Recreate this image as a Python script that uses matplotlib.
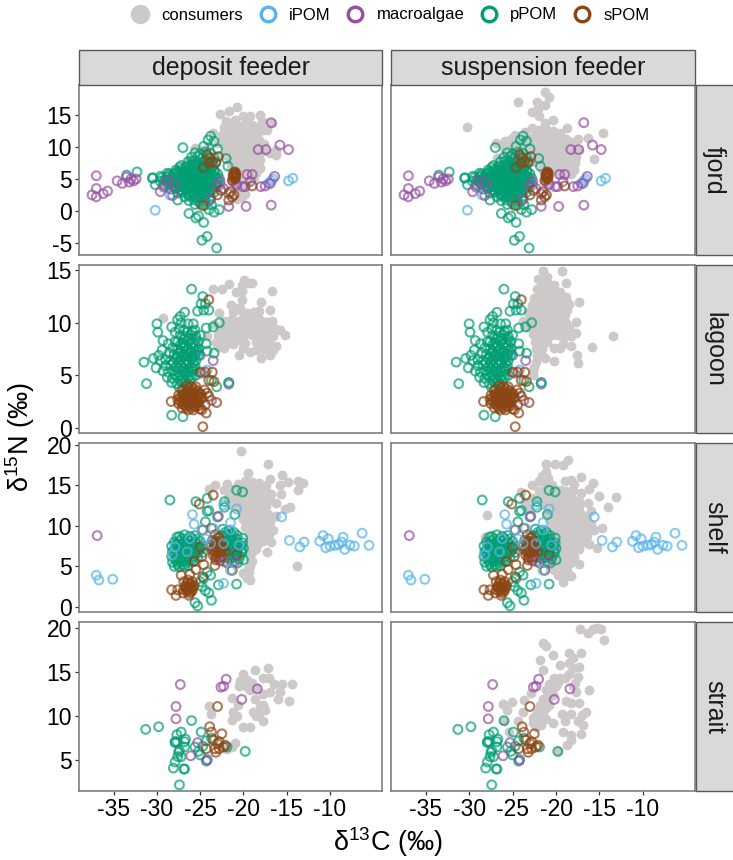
#isotope biplots by habitat and feeding mode
import matplotlib
matplotlib.use('Agg')
import matplotlib.pyplot as plt
from matplotlib.lines import Line2D
from matplotlib.patches import Rectangle

plt.rcParams['font.family'] = ['Liberation Sans', 'DejaVu Sans']
plt.rcParams['mathtext.fontset'] = 'custom'
plt.rcParams['mathtext.rm'] = 'Liberation Sans'
plt.rcParams['mathtext.it'] = 'Liberation Sans'
plt.rcParams['mathtext.default'] = 'regular'
plt.rcParams['axes.unicode_minus'] = False

feeders = ['deposit feeder', 'suspension feeder']
habitats = ['fjord', 'lagoon', 'shelf', 'strait']
x_ticks = [-35, -30, -25, -20, -15, -10]
y_ticks = {'fjord': [-5, 0, 5, 10, 15], 'lagoon': [0, 5, 10, 15],
           'shelf': [0, 5, 10, 15, 20], 'strait': [5, 10, 15, 20]}

# (d13C, d15N) per group, sources are the same in both feeder columns
fjord_ipom = [(-30.2,0.1),(-17.1,4.3),(-16.8,4.7),(-16.6,5.0),(-14.8,4.7),(-14.3,5.1),(-28.5,2.5),(-20.8,4.3),(-22.7,4.0)]
fjord_macro = [(-37,5.5),(-37,3.5),(-37.5,2.5),(-37,2.2),(-36.2,2.7),(-35.7,3.1),(-34.6,4.7),(-34,4.3),(-33.5,5.3),
               (-33,5),(-33.2,4.5),(-32.4,5),(-32.7,4.7),(-29.6,3),(-29.2,3.7),(-28.9,4.8),(-28,4.2),(-28.2,2.4),
               (-23.8,1.8),(-22.7,4.6),(-23.1,3.8),(-22.3,3.5),(-21.7,0.7),(-19.7,0.7),(-16.8,0.9),(-16.8,13.8),
               (-18.3,9.6),(-17.4,9.6),(-15.8,10.3),(-14.8,9.6),(-19.6,5.7),(-19,5.7),(-16.4,5.4),(-21.2,4.6),
               (-20.8,4.1),(-20.1,3.8),(-19.8,3.8),(-19.2,4.6),(-18,3.8),(-17.5,3.9),(-16.9,4.3),(-21.7,2.7)]
fjord_ppom = [(-23.1,-5.8),(-24.2,-4),(-24.8,-4.6),(-24.6,-1.8),(-25.5,-1.1),(-25.2,-0.8),(-26.3,-0.4),(-23.4,-0.2),
              (-22.8,0.2),(-24,0.2),(-27,9.9),(-23.8,11.7),(-23.4,10.9),(-24.1,11.1),(-24.6,10.1),(-23,9.7),(-22,8.2),
              (-21.8,7),(-32.3,6.1),(-33.5,5.6),(-30.5,5.2),(-30.5,5.1),(-30.2,4.1),(-29.6,5.4),(-27.6,1.7),(-28.8,5.9),
              (-27.4,6.8),
              (-25.6,9.1),(-25,8.9),(-24.4,9.2),(-23.8,9),(-26,8.4),(-25.3,8.5),(-24.7,8.3),(-24.1,8.5),(-23.4,8.3),
              (-26.4,7.7),(-25.8,7.8),(-25.1,7.6),(-24.5,7.8),(-23.9,7.6),(-23.2,7.7),(-27.2,7.1),(-26.6,7),(-26,7.2),
              (-25.4,7),(-24.8,7.1),(-24.1,7),(-23.5,7.2),(-27.8,6.4),(-27.1,6.5),(-26.5,6.3),(-25.9,6.5),(-25.2,6.4),
              (-24.6,6.3),(-24,6.5),(-23.4,6.3),(-28.6,5.8),(-28,5.9),(-27.4,5.7),(-26.8,5.8),(-26.2,5.9),(-25.5,5.7),
              (-24.9,5.8),(-24.3,5.9),(-23.6,5.7),(-23,5.8),(-29.4,5.2),(-28.8,5.3),(-28.2,5.1),(-27.6,5.2),(-27,5.3),
              (-26.4,5.1),(-25.8,5.2),(-25.2,5.3),(-24.6,5.1),(-24,5.2),(-23.4,5.3),(-22.8,5.1),(-29.6,4.6),(-29,4.7),
              (-28.4,4.5),(-27.8,4.6),(-27.2,4.7),(-26.6,4.5),(-26,4.6),(-25.4,4.7),(-24.8,4.5),(-24.2,4.6),(-23.6,4.7),
              (-23,4.5),(-29.2,4),(-28.6,4.1),(-28,3.9),(-27.4,4),(-26.8,4.1),(-26.2,3.9),(-25.6,4),(-25,4.1),(-24.4,3.9),
              (-23.8,4),(-23.2,4.1),(-28.4,3.4),(-27.8,3.5),(-27.2,3.3),(-26.6,3.4),(-26,3.5),(-25.4,3.3),(-24.8,3.4),
              (-24.2,3.5),(-23.6,3.3),(-27.6,2.8),(-27,2.9),(-26.4,2.7),(-25.8,2.8),(-25.2,2.9),(-24.6,2.7),(-24,2.8),
              (-23.4,2.9),(-26.8,2.2),(-26.2,2.3),(-25.6,2.1),(-25,2.2),(-24.4,2.3),(-23.8,2.1),(-26.3,1.6),(-25.7,1.7),
              (-25.1,1.5),(-24.5,1.6),(-23.9,1.7),(-25.6,1),(-25,1.1),(-24.4,0.9),(-23.7,1),
              (-25.6,7.4),(-25,7.3),(-24.4,7.4),(-23.8,7.4),(-26.6,6.8),(-26,6.9),(-25.4,6.7),(-24.8,6.8),(-24.2,6.7),(-23.7,6.8),
              (-27.6,6.1),(-27,6.2),(-26.4,6),(-25.8,6.1),(-25.1,6),(-24.5,6.1),(-23.9,6),(-23.3,6.1),(-28.6,5.5),(-28.1,5.6),
              (-27.5,5.5),(-26.9,5.4),(-26.3,5.6),(-25.7,5.5),(-25.1,5.4),(-24.5,5.6),(-23.9,5.5),(-23.3,5.4),(-29.1,4.9),(-28.5,5),
              (-27.9,4.8),(-27.3,4.9),(-26.7,5),(-26.1,4.8),(-25.5,4.9),(-24.9,5),(-24.3,4.8),(-23.7,4.9),(-23.1,5),(-28.7,4.3),
              (-28.1,4.4),(-27.5,4.2),(-26.9,4.3),(-26.3,4.4),(-25.7,4.2),(-25.1,4.3),(-24.5,4.4),(-23.9,4.2),(-23.3,4.3),(-27.9,3.7),
              (-27.3,3.8),(-26.7,3.6),(-26.1,3.7),(-25.5,3.8),(-24.9,3.6),(-24.3,3.7),(-23.7,3.8),(-27.1,3.1),(-26.5,3.2),(-25.9,3),
              (-25.3,3.1),(-24.7,3.2),(-24.1,3),(-26.3,2.5),(-25.7,2.6),(-25.1,2.4),(-24.5,2.5)]
fjord_spom = [(-21,6.1),(-21,5.8),(-21.1,5.5),(-20.9,5.3),(-21,5),(-21.2,5.6),(-20.9,5.9),(-21.3,4.8),(-24.2,8.8),
              (-23.9,8.3),(-22.9,8.5),(-23.6,7.7),(-24.6,6.8),(-24,7.5),(-23.2,7.5),(-24.7,0.8),(-19,3.9),(-21.3,2.2),
              (-21.1,2.5),(-21.7,1.7),(-23,2.5),(-22.6,3.2),(-21.5,3),(-21,6),(-21.1,5.7),(-20.9,5.6),(-21,5.2),(-21.1,5.1)]
fjord_deposit = [(-20.8,16.3),(-21.7,15.7),(-22.7,15.2),(-22,14),(-21,14.2),(-20.1,14.8),(-19.2,14.9),(-18.1,15),
                 (-16.7,13.8),(-17.9,14),(-17.7,12.7),(-17.3,12.6),(-23.5,12.2),(-22.5,11.9),(-25.6,9.8),(-26.3,8),
                 (-16.3,8.8),(-16.9,9),(-16.2,9.6),(-18.1,8),(-18.1,6.7),(-18.5,5.9),(-20.2,2.2),(-19.8,2.7),(-20.8,1.9),
                 (-22.2,13.2),(-21.4,13.4),(-20.6,13.3),(-19.8,13.6),(-19,13.5),(-18.3,13.2),(-22.4,12.1),(-21.6,12.3),
                 (-20.8,12.2),(-20,12.4),(-19.2,12.3),(-18.4,12),(-22.2,11),(-21.4,11.2),(-20.6,11),(-19.8,11.2),(-19,11),
                 (-18.2,11.1),(-17.6,10.4),(-22,9.9),(-21.2,10),(-20.4,9.9),(-19.6,10.1),(-18.8,9.9),(-18,9.6),(-17.4,9.3),
                 (-22.2,8.8),(-21.4,8.9),(-20.6,8.8),(-19.8,9),(-19,8.8),(-18.2,8.8),(-21.6,7.8),(-20.8,7.7),(-20,7.9),
                 (-19.2,7.7),(-18.6,7.4),(-21.4,6.7),(-20.6,6.6),(-19.8,6.8),(-19,6.6),(-20.2,5.6),(-19.4,5.5),(-18.8,5.2),
                 (-20.2,4.5),(-19.6,4.4),(-20.6,3.4),(-20,3.2),(-23,10.6),(-24,10.2),(-24.8,9.6),
                 (-21.8,12.8),(-21,12.8),(-20.2,12.9),(-19.4,12.9),(-18.6,12.7),(-21.8,11.7),(-21,11.7),(-20.2,11.8),(-19.4,11.7),
                 (-18.6,11.6),(-21.6,10.5),(-20.8,10.5),(-20,10.6),(-19.2,10.5),(-18.4,10.4),(-21.6,9.4),(-20.8,9.4),(-20,9.5),
                 (-19.2,9.4),(-18.4,9.3),(-21,8.3),(-20.2,8.3),(-19.4,8.3),(-18.6,8.2),(-21,7.2),(-20.2,7.3),(-19.4,7.2),(-20.6,6.1),
                 (-19.8,6.1),(-19.2,6.1)]
fjord_suspension = [(-21.3,18.6),(-20.8,17.9),(-22.2,17.1),(-21.3,16.6),(-24.4,17.1),(-22.1,15.9),(-22.8,15.4),(-22,14.8),
                    (-21.3,13.8),(-20.3,14.2),(-18.7,12.9),(-30.2,13.1),(-17.5,11.2),(-16.3,11.4),(-14.6,12.2),(-15.6,8.1),
                    (-26.9,10.6),(-26.8,8.3),(-25.9,10.9),(-24.7,11.9),(-23.6,12.4),(-22.8,12.9),(-22,12.6),(-21.2,12.8),
                    (-20.4,12.5),(-19.6,12.2),(-25.2,11.2),(-24.4,11),(-23.6,11.2),(-22.8,11.4),(-22,11.2),(-21.2,11.5),
                    (-20.4,11.3),(-19.6,11.1),(-18.8,11.2),(-18.2,10.8),(-26,9.9),(-25.2,10),(-24.4,9.9),(-23.6,10.1),
                    (-22.8,10),(-22,10.2),(-21.2,10),(-20.4,10.2),(-19.6,10),(-18.8,10),(-18,9.8),(-17.4,9.6),(-25.6,8.8),
                    (-24.8,8.7),(-24,8.9),(-23.2,8.8),(-22.4,8.9),(-21.6,8.8),(-20.8,9),(-20,8.8),(-19.2,8.9),(-18.4,8.7),
                    (-17.7,8.5),(-22.4,7.7),(-21.6,7.8),(-20.8,7.7),(-20,7.7),(-19.2,7.8),(-18.4,7.6),(-17.8,7.5),(-21.6,6.6),
                    (-20.8,6.7),(-20,6.6),(-19.2,6.7),(-18.4,6.5),(-17.9,6.4),(-19.6,5.7),(-19,5.6),(-18.3,5.8),
                    (-22.2,12),(-21.4,12.1),(-20.6,12),(-19.8,11.8),(-23.2,10.7),(-22.4,10.7),(-21.6,10.7),(-20.8,10.7),(-20,10.6),
                    (-19.2,10.5),(-18.4,10.4),(-21.8,9.5),(-21,9.5),(-20.2,9.4),(-19.4,9.5),(-18.6,9.4),(-17.8,9.2),(-21,8.3),(-20.2,8.3),
                    (-19.4,8.3),(-18.6,8.2),(-17.9,8.1),(-20.2,7.2),(-19.4,7.2),(-18.6,7.1),(-19.4,6.1),(-18.7,6.1)]

lagoon_ipom = [(-21.7,4.3),(-25.2,7.2),(-24.2,5.5),(-25.6,6.8)]
lagoon_macro = [(-21.7,4.15),(-23.5,6.4),(-24.8,5.2),(-25,6.9),(-23.7,2.6)]
lagoon_ppom = [(-26,13.2),(-24.7,12.5),(-24.9,11.8),(-24.4,11.8),(-25.3,11.1),(-24.6,11.2),(-24,11.2),(-26.8,11),(-27.3,10.6),
               (-27.6,10.3),(-30,9.9),(-29.9,9.1),(-28.3,9.6),(-27.9,9.1),(-25.8,9.9),(-22.8,10),(-23.5,9.6),(-24.3,9.5),
               (-29.3,8.3),(-28.7,8),(-27.9,8.2),(-24.3,8),(-30.4,6.6),(-31.5,6.25),(-29.8,6.9),(-31.2,4.2),(-30.1,5.7),
               (-29.4,7.4),(-29.6,6.4),(-23.4,7.1),(-24.2,7.3),(-23.1,3.9),(-23.7,4.5),(-28.3,1.2),(-27,1.05),(-21.7,4.3),
               (-27.2,10),(-26.4,9.9),(-25.6,9.3),(-26.8,9.3),(-27.4,9.4),
               (-27.3,8.8),(-26.7,8.7),(-26.1,8.9),(-25.5,8.7),(-25,8.8),(-27.6,8.2),(-27,8.1),(-26.4,8.3),(-25.8,8.1),
               (-25.2,8.2),(-28.2,7.6),(-27.6,7.5),(-27,7.7),(-26.4,7.5),(-25.8,7.6),(-25.2,7.5),(-28.6,7.1),(-28,7),
               (-27.4,7.1),(-26.8,7),(-26.2,7.2),(-25.6,7),(-25.2,6.9),(-29,6.5),(-28.4,6.4),(-27.8,6.6),(-27.2,6.5),
               (-26.6,6.4),(-26,6.6),(-25.5,6.4),(-29,5.9),(-28.4,6),(-27.8,5.8),(-27.2,5.9),(-26.6,6),(-26,5.8),(-25.6,5.9),
               (-29.3,5.4),(-28.7,5.3),(-28.1,5.4),(-27.5,5.3),(-26.9,5.4),(-26.3,5.3),(-25.9,5.4),(-28.8,4.8),(-28.2,4.7),
               (-27.6,4.8),(-27,4.7),(-26.4,4.8),(-28.3,4.3),(-27.7,4.2),(-27.1,4.3),(-26.6,4.2),(-27.4,3.8),(-26.9,3.7),
               (-25.9,4.8),(-25.5,5),
               (-26.9,8.4),(-26.2,8.5),(-25.5,8.4),(-27.3,7.9),(-26.7,7.8),(-26.1,7.9),(-25.5,7.8),(-27.3,7.3),(-26.6,7.3),(-26,7.3),
               (-25.4,7.3),(-27.6,6.8),(-27.1,6.8),(-26.5,6.8),(-25.9,6.8),(-27.5,6.2),(-26.9,6.2),(-26.3,6.2),(-25.8,6.2),(-27.5,5.6),
               (-26.9,5.7),(-26.3,5.6),(-25.7,5.6),(-27.3,5),(-26.7,5.1),(-26.1,5),(-27.2,4.5),(-26.7,4.5),(-26.2,4.5),(-28,5.1),(-28.1,6.2),
               (-26.5,9.1),(-25.9,9.2)]
lagoon_spom = [(-24.7,0.1),(-24.3,1.4),(-24.8,1.7),(-23.1,2.4),(-28.35,2.5),(-24,12.2),(-25,5.3),(-24.4,5.3),(-23.6,5.3),
               (-23.4,4.4),(-24,4.5),(-24.2,3.3),(-24,3),(-25,1.8),(-24.4,2.2),(-24.8,2.9),(-24.5,3.6),
               (-26.6,4),(-26,3.9),(-25.5,3.9),(-27.1,3.6),(-26.5,3.5),(-25.9,3.5),(-25.3,3.5),(-27.5,3.1),(-27,3.1),
               (-26.5,3.1),(-25.9,3.1),(-25.3,3.1),(-24.9,3.2),(-27.6,2.7),(-27.1,2.7),(-26.6,2.7),(-26,2.7),(-25.4,2.7),
               (-24.9,2.7),(-27.5,2.3),(-27,2.3),(-26.5,2.3),(-25.9,2.3),(-25.4,2.3),(-27.1,1.9),(-26.6,1.9),(-26,1.9),
               (-25.5,2),
               (-26.3,3.8),(-25.7,3.7),(-26.9,3.3),(-26.3,3.3),(-25.7,3.3),(-25.1,3.3),(-27.3,2.9),(-26.8,2.9),(-26.3,2.9),(-25.7,2.9),
               (-25.2,2.9),(-27.3,2.5),(-26.8,2.5),(-26.3,2.5),(-25.7,2.5),(-25.2,2.5),(-26.8,2.1),(-26.3,2.1),(-25.7,2.1),(-25.2,2.1),
               (-26.3,3),(-26.6,2.9),(-26,3),(-26.3,2.7),(-26.8,2.7),(-25.8,2.7),(-26.4,1.7),(-25.8,1.7)]
lagoon_deposit = [(-19.9,14.1),(-19,13.8),(-19.5,13.8),(-20.2,13.6),(-21.7,13.7),(-22.5,13.2),(-23.5,13.2),(-20.9,12.9),
                  (-20.2,13),(-16.7,13),(-18,12),(-21.4,11.7),(-20.2,12.2),(-16.9,11.2),(-29.3,10.5),(-22.8,10.9),(-18.2,11.1),
                  (-16.7,10.2),(-16.5,9.5),(-15.8,9.3),(-15.2,8.8),(-16.2,7.8),(-16.9,6.9),(-18,6.6),(-19.2,7.2),(-20.5,6.9),
                  (-20.1,7.6),(-18.5,7.4),(-17.1,8),(-22.3,7.6),(-21.2,8),(-23,7.7),(-24.2,8.7),(-23.4,9.9),
                  (-21.2,11),(-20.4,11.4),(-19.6,10.9),(-18.8,11),(-22.2,10.2),(-21.4,10.3),(-20.6,10.2),(-19.8,10.4),
                  (-19,10.2),(-18.2,10.4),(-17.4,10.1),(-22.6,9.5),(-21.8,9.5),(-21,9.6),(-20.2,9.5),(-19.4,9.6),(-18.6,9.5),
                  (-17.8,9.6),(-17,9.4),(-23,8.8),(-22.2,8.8),(-21.4,8.9),(-20.6,8.8),(-19.8,8.9),(-19,8.8),(-18.2,8.9),
                  (-17.4,8.8),(-16.6,8.7),(-22.6,8.2),(-21.8,8.1),(-19.8,8.1),(-18.6,8.2),(-17.8,8.1),(-17.6,7.5),(-16.6,7.4),
                  (-20.8,11.4),(-20,10.9),(-19.2,10.7),(-21.8,10.1),(-21,10),(-20.2,10),(-19.4,10),(-18.6,10),(-17.8,10.1),(-22.2,9.2),
                  (-21.4,9.2),(-20.6,9.2),(-19.8,9.2),(-19,9.2),(-18.2,9.2),(-17.4,9.2),(-22,8.4),(-21.2,8.5),(-20.4,8.4),(-23.2,8.2)]
lagoon_suspension = [(-13.4,8.7),(-15.9,7.7),(-19.3,14.9),(-18.8,13.8),(-21.5,14.9),(-21,14.4),(-22.1,14.2),(-17.4,12),
                     (-17.7,10.1),(-17.5,6.2),(-17.6,6.9),(-18.3,7.8),(-20.2,6.4),(-19.6,7.6),(-20.2,7.6),(-21.3,6.6),
                     (-22.5,5.8),(-22.6,5),(-18.5,11.8),(-18.9,12.5),(-17.7,9),(-18.3,8.7),
                     (-21.6,13.8),(-20.9,13.7),(-20.2,13.6),(-22.2,13.2),(-21.5,13),(-20.8,13.1),(-20.1,13),(-19.5,12.9),
                     (-22.5,12.4),(-21.8,12.3),(-21.1,12.4),(-20.4,12.3),(-19.7,12.4),(-19.1,12),(-22.8,11.7),(-22.1,11.6),
                     (-21.4,11.7),(-20.7,11.6),(-20,11.7),(-19.3,11.5),(-18.7,11.2),(-23.2,11),(-22.5,10.9),(-21.8,11),
                     (-21.1,10.9),(-20.4,11),(-19.7,10.8),(-19,10.7),(-23.8,10.2),(-23.1,10.3),(-22.4,10.2),(-21.7,10.3),
                     (-21,10.2),(-20.3,10.3),(-19.6,10.1),(-18.9,10),(-18.5,9.5),(-23.2,9.6),(-22.5,9.6),(-21.8,9.5),(-21.1,9.6),
                     (-20.4,9.6),(-19.7,9.4),(-19,9.3),(-22.6,8.9),(-21.9,8.8),(-21.2,8.9),(-20.5,8.8),(-19.8,8.8),(-19.1,8.6),
                     (-22.4,8.2),(-21.7,8.1),(-21,8.2),(-19.2,8),(-22.3,7.5),(-21.6,7.5),(-22.2,6.9),(-21.7,7),(-22.3,6.3),(-22.6,5.4),
                     (-21.2,13.5),(-20.5,13.3),(-21.8,12.7),(-21.1,12.8),(-20.4,12.7),(-19.8,12.7),(-22.4,12),(-21.7,12),(-21,12),(-20.3,12),
                     (-19.6,11.9),(-22.7,11.3),(-22,11.3),(-21.3,11.3),(-20.6,11.3),(-19.9,11.2),(-22.7,10.6),(-22,10.6),(-21.3,10.6),(-20.6,10.6),
                     (-19.9,10.5),(-22.8,9.9),(-22.1,9.9),(-21.4,9.9),(-20.7,9.9),(-20,9.9),(-19.3,9.8),(-22.2,9.2),(-21.5,9.2),(-20.8,9.2),(-20.1,9.2)]

shelf_ipom = [(-37,3.9),(-36.7,3.3),(-35.1,3.4),(-14.7,8.2),(-15.6,11.1),(-13.5,7.4),(-13,8),(-11.2,8.1),(-10.8,8.8),
              (-10.2,8.4),(-10.5,7.3),(-10,7.5),(-9.4,7.6),(-9,7.7),(-8.5,8.6),(-8.7,8),(-8.3,7.1),(-7.7,7.6),(-7.2,7.5),
              (-6.3,9.1),(-5.5,7.6),(-25.9,11.4),(-25.7,10.2),(-20.8,12.1),(-21.5,10.4),(-22.3,12.6),(-23.5,9.7),(-24.8,9.5),
              (-26.2,8.4),(-24.4,8.4),(-22.3,7.8),(-20.5,7.6),(-28.2,6.4),(-27.9,7.4),(-26.5,6.8),(-21.5,4.5),(-22.3,2.9),
              (-23.8,7.8),(-21.5,9.5)]
shelf_macro = [(-36.9,8.8),(-22.9,11.2),(-22.3,5.6),(-21,5.5)]
shelf_ppom = [(-28.5,13.2),(-20.8,14.4),(-20.1,14.2),(-25.5,13),(-24.2,13.4),(-22.2,13),(-22.2,12.3),(-24.2,11.8),(-24,11.9),
              (-23,11.1),(-21,11.4),(-24.4,10.5),(-20.8,2.8),(-22.9,2.7),(-23.7,0.8),(-25.6,0.5),(-25.3,0.1),(-24,1.7),
              (-24.4,2),(-24.8,2.5),(-23.8,3.9),(-24.2,4.3),(-27.7,8.6),(-24.6,3.5),(-25,3.1),
              (-27.4,8.7),(-26.8,8.9),(-26.2,8.7),(-25.6,8.8),(-28,8),(-27.4,8.1),(-26.8,8),(-26.2,8.2),(-25.6,8),(-25,8.1),
              (-28.3,7.5),(-27.7,7.4),(-27.1,7.5),(-26.5,7.4),(-25.9,7.5),(-25.3,7.4),(-24.7,7.5),(-28.2,6.8),(-27.6,6.8),
              (-27,6.9),(-26.4,6.8),(-25.8,6.9),(-25.2,6.8),(-24.7,6.7),(-28.3,6.2),(-27.7,6.1),(-27.1,6.2),(-26.5,6.1),
              (-25.9,6.2),(-25.3,6.1),(-28.2,5.5),(-27.6,5.5),(-27,5.6),(-26.4,5.5),(-25.8,5.6),(-28,5),(-27.4,4.9),(-26.8,5),
              (-22.4,9.6),(-21.7,9.4),(-21.1,9.2),(-22.6,8.8),(-22,8.9),(-21.4,8.7),(-20.7,8.8),(-20.1,8.5),(-22.5,8.2),
              (-21.9,8.1),(-21.3,8.2),(-20.7,8),(-20.1,7.9),(-22.4,7.4),(-21.8,7.5),(-21.2,7.4),(-20.6,7.3),(-20,7.2),
              (-22.6,6.8),(-22,6.7),(-21.4,6.8),(-20.8,6.7),(-20.2,6.6),(-22.3,6.1),(-21.7,6),(-21.1,6.1),(-20.5,5.9),
              (-20,5.8),(-21.9,5.4),(-21.3,5.5),(-20.7,5.4),
              (-27.2,8.4),(-26.5,8.4),(-25.9,8.4),(-25.3,8.4),(-27.7,7.8),(-27.1,7.8),(-26.5,7.8),(-25.9,7.8),(-25.3,7.8),(-28,7.1),(-27.4,7.1),
              (-26.8,7.1),(-26.2,7.1),(-25.6,7.1),(-25,7.1),(-27.9,6.5),(-27.3,6.5),(-26.7,6.5),(-26.1,6.5),(-25.5,6.5),(-27.8,5.8),(-27.2,5.8),
              (-26.6,5.8),(-26,5.8),(-27.6,5.2),(-27,5.2),(-26.4,5.1),(-22.1,9.2),(-21.4,9),(-20.8,8.4),(-21.5,8.4),(-22.1,7.8),(-21.5,7.7),
              (-20.9,7.7),(-20.3,7.6),(-22,7.1),(-21.4,7.1),(-20.8,7),(-20.2,6.9),(-21.7,6.4),(-21.1,6.4),(-20.5,6.3)]
shelf_spom = [(-23.5,13.8),(-25.1,12.7),(-28.3,2.1),(-27.8,1.4),(-26.3,1.4),(-27.6,2.1),(-27,1.7),
              (-26.9,3.1),(-26.4,3.3),(-25.9,3.1),(-26.7,2.6),(-26.2,2.7),(-25.7,2.6),(-26.9,2.1),(-26.4,2.1),(-25.9,2.1),
              (-26.2,1.7),(-26.6,2.3),(-26.1,2.4),(-23.3,8.9),(-22.8,8.6),(-23.6,8.2),(-23.1,8.1),(-22.6,8),(-23.8,7.6),
              (-23.3,7.5),(-22.8,7.4),(-22.3,7.3),(-23.6,7),(-23.1,6.9),(-22.6,6.9),(-22.1,6.8),(-23.5,6.4),(-23,6.3),
              (-22.5,6.3),(-23.2,5.8),(-22.7,5.7),(-24.8,6.2),(-25,7.4),(-20.8,6.4),(-26.2,4),(-25.5,4.6),(-24.7,3.7),
              (-23.3,5.1),(-21.3,4.5),(-27.2,3.9),(-25.7,5.6),(-24.6,5.2),(-24.7,9.5),(-23.7,9.7),
              (-23,8.5),(-23.4,7.9),(-22.9,7.8),(-23.5,7.2),(-23,7.2),(-22.6,7.2),(-23.3,6.7),(-22.8,6.6),(-23.2,6.1),(-22.7,6.1),
              (-26.5,2.9),(-26.1,2.9),(-26.3,2.4),(-26.7,2.4),(-25.9,2.4),(-26.5,1.9),(-26,1.9)]
shelf_deposit = [(-20.3,19.3),(-17.2,17.7),(-19.5,16.6),(-15.6,16.3),(-16.9,15.8),(-14.9,15.4),(-13.7,15.6),(-13.1,15.3),
                 (-13.7,14.4),(-15.8,15),(-15.7,13.9),(-14.6,12.3),(-15.2,12.1),(-16.2,11.2),(-13.8,5),(-17.3,6.8),(-16.8,8),
                 (-16.3,12.8),(-23.3,15),(-24,14.6),(-21.9,15.2),(-19.2,6.4),(-19,5.6),(-19.4,4.3),(-19.3,3.3),
                 (-20.6,15.2),(-19.8,15.5),(-19,15.4),(-18.2,15.3),(-17.4,15.1),(-22.2,14.4),(-21.4,14.5),(-20.6,14.3),
                 (-19.8,14.4),(-19,14.3),(-18.2,14.4),(-17.4,14.3),(-16.8,14),(-21.8,13.5),(-21,13.4),(-20.2,13.5),(-19.4,13.4),
                 (-18.6,13.5),(-17.8,13.3),(-17,13.2),(-21.4,12.6),(-20.6,12.5),(-19.8,12.6),(-19,12.5),(-18.2,12.6),(-17.4,12.4),
                 (-20.2,11.6),(-19.4,11.7),(-18.6,11.6),(-17.8,11.7),(-17.2,11.5),(-20,10.8),(-19.2,10.8),(-18.4,10.7),
                 (-17.6,10.8),(-16.9,10.5),(-19.8,9.9),(-19,9.9),(-18.2,9.8),(-17.4,9.9),(-16.6,9.5),(-19.4,9),(-18.6,9),
                 (-17.8,9),(-17,8.9),(-19.4,8.1),(-18.6,8.1),(-17.8,8.1),(-19.4,7.3),(-18.6,7.2),(-19.3,5),(-20,4.2),(-19.6,3.6),
                 (-20.6,14.8),(-19.8,14.9),(-19,14.8),(-18.2,14.8),(-20.6,13.9),(-19.8,13.9),(-19,13.9),(-18.2,13.8),(-17.4,13.7),(-20.2,13),
                 (-19.4,13),(-18.6,13),(-17.8,12.9),(-20,12.1),(-19.2,12.1),(-18.4,12.1),(-17.6,12),(-19.6,11.2),(-18.8,11.2),(-18,11.2),
                 (-19.4,10.3),(-18.6,10.3),(-17.8,10.3),(-17.2,10.1),(-19,9.4),(-18.2,9.4),(-17.4,9.4),(-19,8.5),(-18.2,8.5),(-17.5,8.4),
                 (-19,7.7),(-18.3,7.7),(-19,6.8),(-19.2,5.9),(-19.5,4.7)]
shelf_suspension = [(-18.6,18.1),(-19.2,17.5),(-20.1,17.6),(-21.2,17.7),(-21.2,16.7),(-21.6,16.2),(-22,15.6),(-22.8,15),
                    (-24,14.2),(-19,15.6),(-18.3,15.7),(-17.1,16.1),(-15.8,15.3),(-16.2,14.5),(-17.1,14.1),(-15.1,13.7),
                    (-13.1,13.6),(-16.3,12.8),(-14,12.3),(-27.9,11.3),(-16,11.8),(-14.7,9.7),(-15.3,7.3),(-16.2,7.8),(-28.2,8.6),
                    (-19.2,3.1),(-18.3,3.8),(-17.3,5.3),(-17.9,6.2),(-21.5,15.5),(-20.9,15.9),(-21.1,15),(-20.5,15),(-17.9,15.2),
                    (-22,14.3),(-21.2,14.2),(-20.4,14.3),(-19.6,14.4),(-18.8,14.3),(-18,14.4),(-22.8,13.4),(-22,13.5),(-21.2,13.4),
                    (-20.4,13.5),(-19.6,13.4),(-18.8,13.5),(-18,13.3),(-17.3,13.1),(-23.6,13),(-21.4,12.6),(-20.6,12.5),(-19.8,12.6),
                    (-19,12.5),(-18.2,12.6),(-17.4,12.4),(-23.2,12.2),(-21,11.6),(-20.2,11.7),(-19.4,11.6),(-18.6,11.7),(-17.8,11.6),
                    (-17,11.4),(-16.4,11),(-20.8,10.8),(-20,10.8),(-19.2,10.7),(-18.4,10.8),(-17.6,10.7),(-16.8,10.5),(-16,10.2),
                    (-20.6,9.9),(-19.8,9.9),(-19,9.8),(-18.2,9.9),(-17.4,9.8),(-16.6,9.7),(-15.6,9.5),(-20.4,9),(-19.6,9),(-18.8,9),
                    (-18,9),(-17.2,8.9),(-16.4,8.8),(-20,8.1),(-19.2,8.1),(-18.4,8.1),(-17.6,8),(-16.8,8),(-19.8,7.2),(-19,7.2),
                    (-18.2,7.2),(-17.4,7.1),(-19.6,6.3),(-18.8,6.3),(-18,6.4),(-20,5.4),(-19.2,5.4),(-18.4,5.4),(-20.2,4.6),(-19.4,4.5),
                    (-18.7,4.6),(-19.8,3.9),(-18.9,3.8),
                    (-21.6,13.9),(-20.8,13.9),(-20,13.9),(-19.2,13.9),(-18.4,13.9),(-21,13),(-20.2,13),(-19.4,13),(-18.6,13),(-17.8,12.9),(-20.6,12.1),
                    (-19.8,12.1),(-19,12.1),(-18.2,12.1),(-17.4,11.9),(-20.4,11.2),(-19.6,11.2),(-18.8,11.2),(-18,11.2),(-17.2,10.9),(-20.2,10.3),
                    (-19.4,10.3),(-18.6,10.3),(-17.8,10.3),(-17,10.1),(-20,9.4),(-19.2,9.4),(-18.4,9.4),(-17.6,9.4),(-16.8,9.3),(-19.6,8.5),(-18.8,8.5),
                    (-18,8.5),(-17.2,8.4),(-19.4,7.7),(-18.6,7.7),(-17.8,7.6),(-19.2,6.8),(-18.4,6.8),(-19.3,5.9),(-18.6,5.9),(-19.6,5)]

strait_ipom = [(-24.2,5.1)]
strait_macro = [(-27.3,13.6),(-27.8,11.1),(-27.8,9.7),(-22,14.2),(-22.3,13.4),(-22.6,13.3),(-20.2,11.9),(-18.4,13.1),(-25.3,7),
                (-26.1,5.5),(-24.2,5)]
strait_ppom = [(-27.4,2.2),(-31.3,8.5),(-29.8,8.8),(-26,9.5),(-24.9,8.2),(-19.8,6),(-27.7,7.9),(-27.2,8.2),(-27.9,7),(-27.7,7.1),
               (-26.7,7.4),(-26.8,7.1),(-27.4,6.1),(-26.8,6.5),(-27.6,5.4),(-27.9,4.8),(-28.1,4.1),(-26.8,4),(-26.9,4),(-27.2,5.4),
               (-25.6,6.5),(-25,5.6),(-24.3,4.9),(-24.3,7.2),(-23.7,7.5),(-21.9,6.5),(-25.2,6),(-27.5,5.9),(-27.9,7.1),(-24.7,6.6)]
strait_spom = [(-23,11.1),(-23.9,8.8),(-23.7,8.2),(-22.5,8),(-22.8,7.1),(-23.5,7.3),(-22.1,6.7),(-24.3,6.3),(-23.3,6.3),
               (-22.8,6.3),(-23.2,5.9),(-22.3,6.5),(-23,6.9)]
strait_deposit = [(-17.2,15.5),(-18.7,15.2),(-20.1,14.8),(-20.1,14.3),(-19.6,14.1),(-19,13.8),(-17.7,14.3),(-17.1,14.3),(-16.5,13.6),
                  (-15.6,13.6),(-14.4,13.7),(-15.8,12.8),(-16,12),(-14.7,11.7),(-16.9,12.7),(-17.7,12.5),(-18.7,12),(-21.3,12.1),
                  (-20.6,11.3),(-24,11.2),(-23.7,10.2),(-21.2,10.5),(-20.7,10),(-21.3,9.6),(-20.1,8.8),(-19.2,8.8),(-17.7,9.4),
                  (-18.5,10),(-18.9,10.5),(-17.5,10.7),(-18.1,11.1),(-17.7,11.3),(-21,6.9),(-21.3,6.5),(-21.9,6.3),(-20,13.7),
                  (-19.2,13),(-19.6,13.3),(-18.5,13.2),(-20.4,14),(-18.2,10.3),(-20.5,13.4)]
strait_suspension = [(-17.2,19.9),(-15.8,19.9),(-15.3,20),(-14.8,19.9),(-16.3,19.4),(-14.5,18.6),(-21.5,18.3),(-21.2,18),(-20.4,17),
                     (-21.8,16.4),(-17.1,17.2),(-18.5,17.2),(-18.1,16.6),(-19.5,15.8),(-18.5,16),(-17.3,15.6),(-18.1,15.5),(-17.5,14.5),
                     (-21.5,15.2),(-16.2,13),(-17.7,12.8),(-17.3,11.5),(-18.3,11.5),(-18.8,11.7),(-16.5,10.5),(-17,10.1),(-18.3,10.3),
                     (-19.3,10.3),(-20.4,9.2),(-19,9.4),(-17.5,9.4),(-16.9,9),(-17.1,8),(-19.2,8.2),(-18.3,7.9),(-18.3,7.3),(-18.7,6.7),
                     (-19.8,6),(-26.1,11.4),(-25.1,11.6),(-25.6,10.7),(-26,9.4),(-24.4,9.5),(-23.8,10.5),(-23.7,11.8),(-22.9,12.6),(-25.4,8.2),
                     (-22.7,9.75),(-22.1,10.5),(-21.9,11.3),(-21.5,12),(-21.2,13),(-20.8,13.7),(-20.2,14.3),(-19.6,14.3),(-19,14.3),(-20,13.4),
                     (-20.8,12.2),(-21.2,10.9),(-21.9,9.4),(-22.3,10.1),(-21.5,10.1),(-20.8,11.3),(-20.4,12.4),(-22.3,8.8),(-21.7,9),
                     (-18.5,14.8),(-18,13.4),(-17.8,13.8),(-21.5,11.4),(-21.1,11.9),(-20.9,12.7),(-20.5,13),(-22,10),(-21.2,9.7),(-22.6,9.2),
                     (-19.8,13.9)]

consumers = {('fjord', 0): fjord_deposit, ('fjord', 1): fjord_suspension,
             ('lagoon', 0): lagoon_deposit, ('lagoon', 1): lagoon_suspension,
             ('shelf', 0): shelf_deposit, ('shelf', 1): shelf_suspension,
             ('strait', 0): strait_deposit, ('strait', 1): strait_suspension}
sources = {'fjord': {'iPOM': fjord_ipom, 'macroalgae': fjord_macro, 'pPOM': fjord_ppom, 'sPOM': fjord_spom},
           'lagoon': {'iPOM': lagoon_ipom, 'macroalgae': lagoon_macro, 'pPOM': lagoon_ppom, 'sPOM': lagoon_spom},
           'shelf': {'iPOM': shelf_ipom, 'macroalgae': shelf_macro, 'pPOM': shelf_ppom, 'sPOM': shelf_spom},
           'strait': {'iPOM': strait_ipom, 'macroalgae': strait_macro, 'pPOM': strait_ppom, 'sPOM': strait_spom}}
# rows were not plotted in the same group order in each habitat
draw_order = {'fjord': ['iPOM', 'pPOM', 'macroalgae', 'sPOM'],
              'lagoon': ['macroalgae', 'iPOM', 'pPOM', 'sPOM'],
              'shelf': ['pPOM', 'sPOM', 'macroalgae', 'iPOM'],
              'strait': ['iPOM', 'pPOM', 'sPOM', 'macroalgae']}

colors = {'consumers': '#CDC9C9', 'iPOM': '#56B4E9', 'macroalgae': '#984EA3',
          'pPOM': '#009E73', 'sPOM': '#8B4513'}
y_limits = {'fjord': (-6.9, 19.7), 'lagoon': (-0.5, 15.5), 'shelf': (-0.65, 20.25), 'strait': (1.5, 20.7)}
x_limits = (-39, -4)

W, H = 733, 860
border = '#7F7F7F'
strip_fill = '#D9D9D9'
strip_edge = '#595959'
col_px = [(79, 382), (391, 695)]
row_px = [(85, 255), (265, 433), (443, 612), (622, 791)]


def px_axes(left, right, top, bottom):
    return [left / W, 1 - bottom / H, (right - left) / W, (bottom - top) / H]


fig = plt.figure(figsize=(W / 100, H / 100), dpi=100)

for r, hab in enumerate(habitats):
    for c, feeder in enumerate(feeders):
        ax = fig.add_axes(px_axes(col_px[c][0], col_px[c][1], row_px[r][0], row_px[r][1]))
        pts = consumers[(hab, c)]
        ax.scatter([p[0] for p in pts], [p[1] for p in pts], s=50, color=colors['consumers'], linewidths=0, zorder=2)
        for z, group in enumerate(draw_order[hab]):
            pts = sources[hab][group]
            ax.scatter([p[0] for p in pts], [p[1] for p in pts], s=40, facecolors='none',
                       edgecolors=colors[group], linewidths=1.5, alpha=0.7, zorder=3 + z)
        ax.set_xlim(x_limits)
        ax.set_ylim(y_limits[hab])
        ax.set_xticks(x_ticks)
        ax.set_yticks(y_ticks[hab])
        ax.tick_params(length=3, width=0.9, color='#333333', labelsize=16.5, pad=2,
                       bottom=r == 3, labelbottom=r == 3, left=c == 0, labelleft=c == 0)
        for s in ax.spines.values():
            s.set_color(border)
            s.set_linewidth(1.2)

# feeder strips along the top
for c, feeder in enumerate(feeders):
    l, rgt = col_px[c]
    fig.patches.append(Rectangle((l / W, 1 - 85 / H), (rgt - l) / W, 35 / H, transform=fig.transFigure,
                                 facecolor=strip_fill, edgecolor=strip_edge, linewidth=1.0))
    fig.text((l + rgt) / 2 / W, 1 - 68 / H, feeder, ha='center', va='center', fontsize=18, color='#1A1A1A')

# habitat strips down the right side
for r, hab in enumerate(habitats):
    t, b = row_px[r]
    fig.patches.append(Rectangle((696 / W, 1 - b / H), 40 / W, (b - t) / H, transform=fig.transFigure,
                                 facecolor=strip_fill, edgecolor=strip_edge, linewidth=1.0))
    fig.text(714 / W, 1 - (t + b) / 2 / H, hab, ha='center', va='center', rotation=-90, fontsize=18, color='#1A1A1A')

fig.text(388 / W, 1 - 842 / H, r'$\delta^{13}$C (‰)', ha='center', va='center', fontsize=19.5)
fig.text(20 / W, 1 - 437 / H, r'$\delta^{15}$N (‰)', ha='center', va='center', rotation=90, fontsize=19.5)

handles = [Line2D([], [], ls='', marker='o', ms=14, color=colors['consumers'], mew=0, label='consumers')]
for group in ['iPOM', 'macroalgae', 'pPOM', 'sPOM']:
    handles.append(Line2D([], [], ls='', marker='o', ms=10.5, mfc='none', mec=colors[group], mew=2.4, label=group))
fig.legend(handles=handles, ncol=5, loc='center', bbox_to_anchor=(388 / W, 1 - 15 / H), frameon=False,
           fontsize=12, handletextpad=0.5, columnspacing=0.65, borderpad=0, handlelength=1.6)

fig.savefig('out.png', dpi=100)
